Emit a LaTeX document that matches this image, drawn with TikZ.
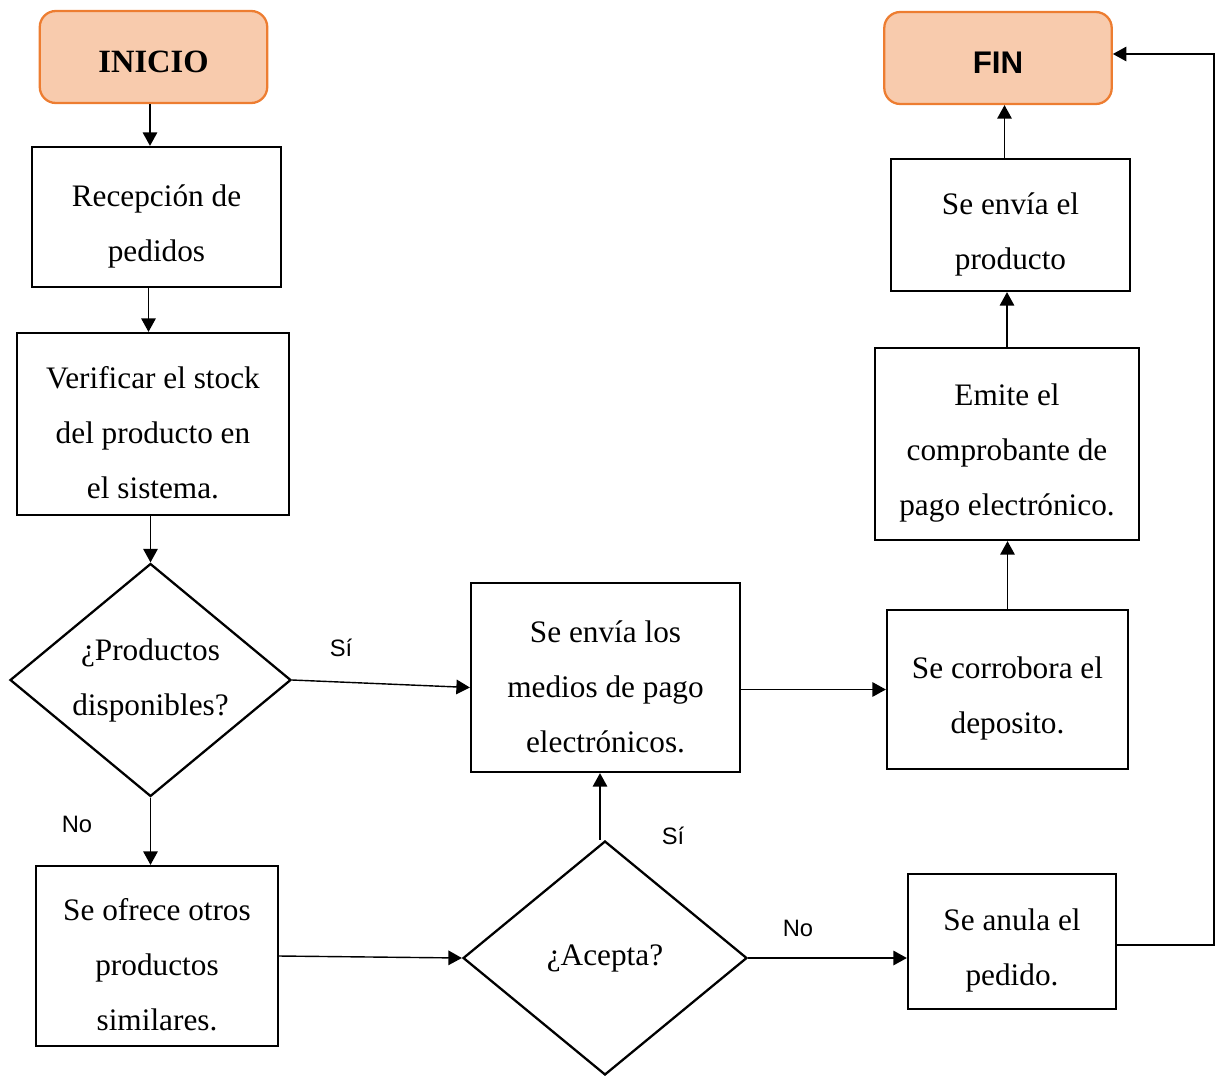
\documentclass[tikz,border=0pt]{standalone}
\usepackage{fontspec}
\setmainfont{Liberation Serif}
\newfontfamily\arial{Liberation Sans}
\usetikzlibrary{shapes.geometric,arrows.meta}
\definecolor{durazno}{HTML}{F8CBAD}
\definecolor{naranja}{HTML}{ED7D31}
\newcommand{\alto}{\rule{0pt}{0.8cm}}
\begin{document}
\begin{tikzpicture}[x=0.02cm, y=-0.02cm,
    caja/.style = {draw, line width=1.3pt, rectangle, align=center, inner sep=0pt,
                   font=\fontsize{17.8}{31.3}\selectfont},
    extremo/.style = {draw=naranja, fill=durazno, line width=1.3pt, rounded corners=0.32cm,
                      minimum width=4.55cm, minimum height=1.84cm, text height=0.62cm},
    decision/.style = {draw, line width=1.3pt, diamond, aspect=1.2, align=center, inner sep=0pt,
                       font=\fontsize{17.8}{31.3}\selectfont},
    flecha/.style = {line width=0.8pt, -{Triangle[length=0.27cm,width=0.29cm]}},
    etiqueta/.style = {font=\arial\fontsize{13.5}{16}\selectfont}]
    \useasboundingbox (0,0) rectangle (1216,1075);
    % inicio y fin
    \node[extremo, font=\bfseries\fontsize{18.5}{20}\selectfont] (inicio) at (153.5,57) {INICIO};
    \node[extremo, font=\arial\bfseries\fontsize{17.8}{20}\selectfont] (fin) at (998,58) {FIN};
    % columna izquierda
    \node[caja, minimum width=4.98cm, minimum height=2.8cm] (recep) at (156.5,217) {\alto Recepción de\\pedidos};
    \node[caja, minimum width=5.44cm, minimum height=3.64cm] (verif) at (153,424) {\alto Verificar el stock\\del producto en\\el sistema.};
    \node[decision, minimum width=5.62cm, minimum height=4.66cm] (prod) at (150.5,680) {¿Productos\\disponibles?};
    \node[caja, minimum width=4.84cm, minimum height=3.6cm] (ofrece) at (157,956) {\alto Se ofrece otros\\productos\\similares.};
    % centro
    \node[caja, minimum width=5.38cm, minimum height=3.78cm] (medios) at (605.5,677.5) {\alto Se envía los\\medios de pago\\electrónicos.};
    \node[decision, minimum width=5.68cm, minimum height=4.68cm] (acepta) at (605,958) {¿Acepta?};
    % columna derecha
    \node[caja, minimum width=4.78cm, minimum height=2.64cm] (envia) at (1010.5,225) {\alto Se envía el\\producto};
    \node[caja, minimum width=5.28cm, minimum height=3.84cm] (emite) at (1007,444) {\alto Emite el\\comprobante de\\pago electrónico.};
    \node[caja, minimum width=4.82cm, minimum height=3.18cm] (corrob) at (1007.5,689.5) {\alto Se corrobora el\\deposito.};
    \node[caja, minimum width=4.16cm, minimum height=2.7cm] (anula) at (1012,941.5) {\alto Se anula el\\pedido.};
    \coordinate (borde) at (1214,0);
    % etiquetas
    \node[etiqueta] (si1) at (341,648) {Sí};
    \node[etiqueta] (no1) at (77,824) {No};
    \node[etiqueta] (si2) at (673,836) {Sí};
    \node[etiqueta] (no2) at (798,928) {No};
    % flechas
    \draw[flecha] ([xshift=-0.07cm]inicio.south) -- ([xshift=-0.07cm]inicio.south |- recep.north);
    \draw[flecha] ([xshift=-0.16cm]recep.south) -- ([xshift=-0.16cm]recep.south |- verif.north);
    \draw[flecha] (prod.north |- verif.south) -- (prod.north);
    \draw[flecha] (prod.east) -- ([yshift=-0.2cm]medios.west);
    \draw[flecha] (prod.south) -- (prod.south |- ofrece.north);
    \draw[flecha] (ofrece.east) -- (acepta.west);
    \draw[flecha] ([xshift=-0.1cm]acepta.north) -- ([xshift=-0.1cm]acepta.north |- medios.south);
    \draw[flecha] (acepta.east) -- (acepta.east -| anula.west);
    \draw[flecha] (medios.east |- corrob.west) -- (corrob.west);
    \draw[flecha] (corrob.north) -- (corrob.north |- emite.south);
    \draw[flecha] (emite.north) -- (emite.north |- envia.south);
    \draw[flecha] ([xshift=-0.12cm]envia.north) -- ([xshift=-0.12cm]envia.north |- fin.south);
    \draw[flecha] ([yshift=-0.07cm]anula.east) -- ([yshift=-0.07cm]anula.east -| borde) |- ([yshift=0.08cm]fin.east);
\end{tikzpicture}
\end{document}
